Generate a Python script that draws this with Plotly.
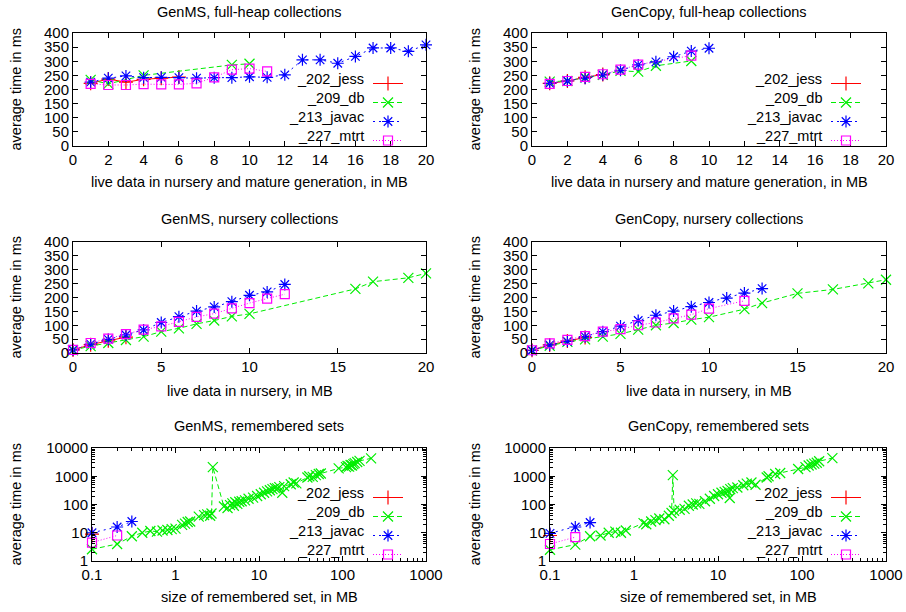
import plotly.graph_objects as go

W, H = 906, 612

BENCH = ["_202_jess", "_209_db", "_213_javac", "_227_mtrt"]
COLORS = ["#ff0000", "#00ee00", "#0000ff", "#ff00ff"]
SYMBOLS = ["cross-thin-open", "x-thin-open", "asterisk-open", "square-open"]
DASHES = ["solid", "5px,3px", "2px,4px", "1px,2px"]

# ---------- GenMS, full-heap collections ----------
ms_full_jess_x = [1, 2, 3, 4, 5, 6]
ms_full_jess_y = [222, 237, 226, 236, 240, 244]
ms_full_db_x = [1, 2, 4, 9, 10]
ms_full_db_y = [234, 220, 250, 287, 291]
ms_full_javac_x = [1, 2, 3, 4, 5, 6, 7, 8, 9, 10, 11, 12, 13, 14, 15, 16, 17, 18, 19, 20]
ms_full_javac_y = [226, 240, 248, 242, 243, 242, 240, 242, 242, 245, 243, 252, 305, 305, 293, 317, 347, 347, 335, 358]
ms_full_mtrt_x = [1, 2, 3, 4, 5, 6, 7, 8, 9, 10, 11]
ms_full_mtrt_y = [220, 216, 216, 219, 218, 218, 222, 243, 270, 274, 264]

# ---------- GenCopy, full-heap collections ----------
gc_full_jess_x = [1, 2, 3, 4]
gc_full_jess_y = [222, 230, 243, 253]
gc_full_db_x = [1, 2, 3, 4, 5, 6, 7, 9]
gc_full_db_y = [228, 230, 243, 252, 266, 263, 284, 301]
gc_full_javac_x = [1, 2, 3, 4, 5, 6, 7, 8, 9, 10]
gc_full_javac_y = [222, 230, 240, 252, 268, 287, 298, 316, 336, 346]
gc_full_mtrt_x = [1, 2, 3, 4, 5, 6, 9]
gc_full_mtrt_y = [220, 230, 245, 254, 270, 288, 320]

# ---------- GenMS, nursery collections ----------
ms_nur_jess_x = [0, 1, 2, 3]
ms_nur_jess_y = [11, 30, 44, 57]
ms_nur_db_x = [0, 1, 2, 3, 4, 5, 6, 7, 8, 9, 10, 16, 17, 19, 20]
ms_nur_db_y = [10, 25, 36, 47, 59, 77, 89, 105, 117, 132, 141, 231, 257, 271, 287]
ms_nur_javac_x = [0, 1, 2, 3, 4, 5, 6, 7, 8, 9, 10, 11, 12]
ms_nur_javac_y = [11, 32, 49, 65, 83, 110, 131, 151, 166, 185, 208, 220, 247]
ms_nur_mtrt_x = [0, 1, 2, 3, 4, 5, 6, 7, 8, 9, 10, 11, 12]
ms_nur_mtrt_y = [11, 36, 52, 68, 84, 96, 112, 130, 142, 161, 180, 196, 212]

# ---------- GenCopy, nursery collections ----------
gc_nur_jess_x = [0, 1, 2, 3]
gc_nur_jess_y = [10, 29, 43, 56]
gc_nur_db_x = [0, 1, 2, 3, 4, 5, 6, 7, 8, 9, 10, 12, 13, 15, 17, 19, 20]
gc_nur_db_y = [9, 26, 40, 49, 59, 69, 84, 100, 108, 120, 129, 158, 180, 215, 229, 251, 264]
gc_nur_javac_x = [0, 1, 2, 3, 4, 5, 6, 7, 8, 9, 10, 11, 12, 13]
gc_nur_javac_y = [10, 29, 42, 59, 77, 97, 117, 136, 151, 167, 182, 198, 216, 232]
gc_nur_mtrt_x = [0, 1, 2, 3, 4, 5, 6, 7, 8, 9, 10, 12]
gc_nur_mtrt_y = [10, 35, 47, 61, 77, 86, 100, 110, 125, 138, 160, 188]

# ---------- GenMS, remembered sets ----------
ms_rem_jess_x = [0.1]
ms_rem_jess_y = [9]
ms_rem_db_x = [0.1, 0.2, 0.3, 0.4, 0.5, 0.6, 0.7, 0.8, 0.9, 1.0, 1.2, 1.3, 1.4, 1.5,
               1.9, 2.2, 2.4, 2.6, 2.7, 2.8, 3.8, 4.2, 4.5, 4.8, 5.0, 5.2, 5.5, 5.8,
               6.2, 6.8, 7.5, 8.5, 9.5, 10.5, 11.5, 12.5, 13.5, 14.5, 15.5, 16.5, 17.5,
               19.0, 20, 24, 26, 28, 38, 40, 44, 48, 52, 55, 90, 110, 115, 120, 125,
               130, 135, 140, 150, 160, 220]
ms_rem_db_y = [2.6, 4, 7.5, 10, 11.5, 11, 12, 12.5, 13.5, 14, 19, 21, 24, 25,
               37, 42, 45, 40, 48, 2100, 85, 75, 95, 110, 90, 120, 105, 125,
               130, 140, 160, 175, 200, 230, 260, 290, 320, 350, 380, 370, 410,
               260, 450, 520, 600, 560, 900, 1000, 950, 1100, 1200, 1250, 1900, 2100, 2300, 2200, 2500,
               2400, 2700, 2900, 3200, 3500, 4300]
ms_rem_javac_x = [0.1, 0.2, 0.3]
ms_rem_javac_y = [10, 16, 25]
ms_rem_mtrt_x = [0.1, 0.2]
ms_rem_mtrt_y = [4.5, 8]

# ---------- GenCopy, remembered sets ----------
gc_rem_jess_x = [0.1]
gc_rem_jess_y = [8]
gc_rem_db_x = [0.1, 0.2, 0.3, 0.4, 0.5, 0.6, 0.7, 0.8, 1.3, 1.4, 1.6, 1.8, 2.0, 2.3,
               2.6, 2.8, 2.9, 3.0, 3.5, 4.0, 4.5, 5.0, 5.5, 6.0, 7, 8, 9, 10, 11, 12,
               13, 13.8, 14, 15, 17, 20, 22, 25, 28, 38, 40, 48, 55, 90, 110, 120,
               130, 140, 150, 160, 230]
gc_rem_db_y = [2.5, 3.8, 7.5, 8, 10, 11, 10, 12, 22, 20, 25, 28, 32, 30,
               40, 50, 1100, 60, 65, 70, 90, 100, 110, 105, 130, 160, 200, 230, 260, 280,
               300, 170, 350, 380, 400, 480, 550, 600, 500, 900, 1000, 1200, 1300, 1800, 2100, 2400,
               2600, 2800, 3000, 3400, 4400]
gc_rem_javac_x = [0.1, 0.2, 0.3]
gc_rem_javac_y = [9.5, 16, 23]
gc_rem_mtrt_x = [0.1, 0.2]
gc_rem_mtrt_y = [4, 7]

LIN_X_TICKS_FULL = [0, 2, 4, 6, 8, 10, 12, 14, 16, 18, 20]
LIN_X_TICKS_NUR = [0, 5, 10, 15, 20]
LIN_Y_TICKS = [0, 50, 100, 150, 200, 250, 300, 350, 400]
LOG_X_TICKVALS = [0.1, 1, 10, 100, 1000]
LOG_X_TICKTEXT = ["0.1", "1", "10", "100", "1000"]
LOG_Y_TICKVALS = [1, 10, 100, 1000, 10000]
LOG_Y_TICKTEXT = ["1", "10", "100", "1000", "10000"]
LOG_X_MINOR = [m * d for d in (0.1, 1, 10, 100) for m in range(2, 10)]
LOG_Y_MINOR = [m * d for d in (1, 10, 100, 1000) for m in range(2, 10)]

TITLES = ["GenMS, full-heap collections", "GenCopy, full-heap collections",
          "GenMS, nursery collections", "GenCopy, nursery collections",
          "GenMS, remembered sets", "GenCopy, remembered sets"]
XTITLES = ["live data in nursery and mature generation, in MB"] * 2 + \
          ["live data in nursery, in MB"] * 2 + ["size of remembered set, in MB"] * 2
YTITLE = "average time in ms"

panels = [
    [(ms_full_jess_x, ms_full_jess_y), (ms_full_db_x, ms_full_db_y),
     (ms_full_javac_x, ms_full_javac_y), (ms_full_mtrt_x, ms_full_mtrt_y)],
    [(gc_full_jess_x, gc_full_jess_y), (gc_full_db_x, gc_full_db_y),
     (gc_full_javac_x, gc_full_javac_y), (gc_full_mtrt_x, gc_full_mtrt_y)],
    [(ms_nur_jess_x, ms_nur_jess_y), (ms_nur_db_x, ms_nur_db_y),
     (ms_nur_javac_x, ms_nur_javac_y), (ms_nur_mtrt_x, ms_nur_mtrt_y)],
    [(gc_nur_jess_x, gc_nur_jess_y), (gc_nur_db_x, gc_nur_db_y),
     (gc_nur_javac_x, gc_nur_javac_y), (gc_nur_mtrt_x, gc_nur_mtrt_y)],
    [(ms_rem_jess_x, ms_rem_jess_y), (ms_rem_db_x, ms_rem_db_y),
     (ms_rem_javac_x, ms_rem_javac_y), (ms_rem_mtrt_x, ms_rem_mtrt_y)],
    [(gc_rem_jess_x, gc_rem_jess_y), (gc_rem_db_x, gc_rem_db_y),
     (gc_rem_javac_x, gc_rem_javac_y), (gc_rem_mtrt_x, gc_rem_mtrt_y)],
]

# plot boxes in pixels: (left, right, top, bottom)
BOXES = [(73, 426, 33, 146), (532, 886, 33, 146),
         (73, 426, 242, 353), (532, 886, 242, 353),
         (92, 426, 448, 561), (550, 886, 448, 561)]
LEGEND_PANELS = {0: "legend", 1: "legend2", 4: "legend3", 5: "legend4"}
LEGEND_CENTER = {0: 107, 1: 107, 4: 521, 5: 521}

FONT = "Liberation Sans, Arial, sans-serif"
FS = 14.5
TFS = 15

fig = go.Figure()
layout = dict(width=W, height=H, margin=dict(l=0, r=0, t=0, b=0, autoexpand=False),
              plot_bgcolor="white", paper_bgcolor="white",
              font=dict(family=FONT, size=FS, color="black"),
              annotations=[])


def px(x):
    return x / W


def py(y):
    return 1 - y / H


for i, series in enumerate(panels):
    n = i + 1
    xa = "x" if n == 1 else f"x{n}"
    ya = "y" if n == 1 else f"y{n}"
    for k, (xs, ys) in enumerate(series):
        tr = dict(x=xs, y=ys, xaxis=xa, yaxis=ya, mode="lines+markers",
                  name=" ", cliponaxis=False,
                  line=dict(color=COLORS[k], width=1, dash=DASHES[k]),
                  marker=dict(symbol=SYMBOLS[k], size=10 if k != 3 else 9,
                              color=COLORS[k], line=dict(color=COLORS[k], width=1.2)),
                  hovertext=BENCH[k])
        if i in LEGEND_PANELS:
            tr["legend"] = LEGEND_PANELS[i]
            tr["showlegend"] = True
        else:
            tr["showlegend"] = False
        fig.add_trace(go.Scatter(**tr))

    L, R, T, B = BOXES[i]
    is_log = i >= 4
    axbase = dict(showline=True, linecolor="black", linewidth=1, mirror="allticks",
                  ticks="inside", ticklen=5, tickcolor="black", showgrid=False,
                  zeroline=False, tickfont=dict(family=FONT, size=TFS, color="black"))
    xax = dict(axbase, domain=[px(L), px(R)], anchor=ya)
    yax = dict(axbase, domain=[py(B), py(T)], anchor=xa)
    if is_log:
        xax.update(type="log", range=[-1, 3], tickvals=LOG_X_TICKVALS, ticktext=LOG_X_TICKTEXT,
                   minor=dict(tickmode="array", tickvals=LOG_X_MINOR, ticks="inside",
                              ticklen=3, tickcolor="black", showgrid=False))
        yax.update(type="log", range=[0, 4], tickvals=LOG_Y_TICKVALS, ticktext=LOG_Y_TICKTEXT,
                   minor=dict(tickmode="array", tickvals=LOG_Y_MINOR, ticks="inside",
                              ticklen=3, tickcolor="black", showgrid=False))
    else:
        xax.update(range=[0, 20], tickvals=LIN_X_TICKS_FULL if i < 2 else LIN_X_TICKS_NUR)
        yax.update(range=[0, 400], tickvals=LIN_Y_TICKS)
    layout["xaxis" if n == 1 else f"xaxis{n}"] = xax
    layout["yaxis" if n == 1 else f"yaxis{n}"] = yax

    cx = (L + R) / 2
    cy = (T + B) / 2
    title_y = {0: 12, 1: 12, 2: 219, 3: 219, 4: 426, 5: 426}[i]
    xt_y = {0: 182, 1: 182, 2: 391, 3: 391, 4: 597, 5: 597}[i]
    yt_x = 15 if i % 2 == 0 else 474
    layout["annotations"].append(dict(text=TITLES[i], x=px(cx), y=py(title_y), xref="paper", yref="paper",
                                      showarrow=False, xanchor="center", yanchor="middle",
                                      font=dict(family=FONT, size=FS)))
    layout["annotations"].append(dict(text=XTITLES[i], x=px(cx), y=py(xt_y), xref="paper", yref="paper",
                                      showarrow=False, xanchor="center", yanchor="middle",
                                      font=dict(family=FONT, size=FS)))
    layout["annotations"].append(dict(text=YTITLE, x=px(yt_x), y=py(cy), xref="paper", yref="paper",
                                      showarrow=False, xanchor="center", yanchor="middle", textangle=-90,
                                      font=dict(family=FONT, size=FS)))

    if i in LEGEND_PANELS:
        sample_left = R - 58 if i % 2 == 0 else R - 60
        center = LEGEND_CENTER[i]
        lg = dict(x=px(sample_left), y=py(center - 38), xanchor="left", yanchor="top",
                  bgcolor="rgba(0,0,0,0)", borderwidth=0, font=dict(size=10),
                  itemwidth=30, tracegroupgap=0)
        layout[LEGEND_PANELS[i]] = lg
        for k in range(4):
            yy = center - 28.5 + 19 * k
            layout["annotations"].append(dict(text=BENCH[k], x=px(sample_left - 2), y=py(yy),
                                              xref="paper", yref="paper", showarrow=False,
                                              xanchor="right", yanchor="middle",
                                              font=dict(family=FONT, size=FS)))

fig.update_layout(**layout)
fig.write_html("out.html", config={"displayModeBar": False},
               post_script="document.body.style.margin='0';document.body.style.overflow='hidden';")
